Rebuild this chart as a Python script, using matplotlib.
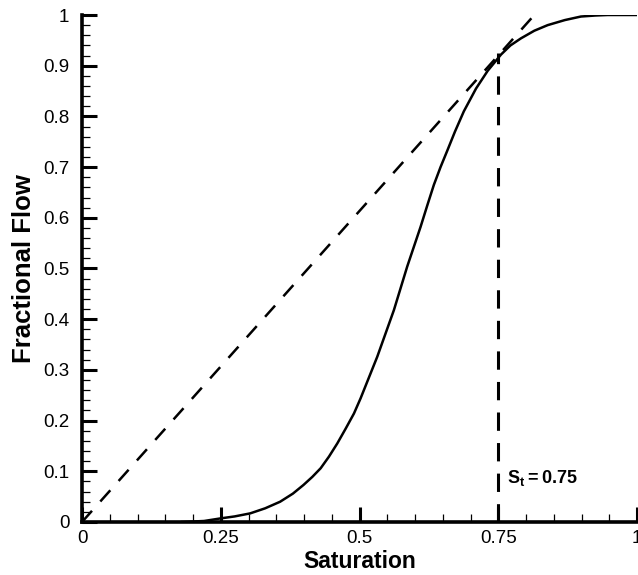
import numpy as np
import matplotlib
matplotlib.use("Agg")
import matplotlib.pyplot as plt
from matplotlib.ticker import MultipleLocator, FuncFormatter

plt.rcParams['font.family'] = ['Liberation Sans', 'DejaVu Sans']
plt.rcParams['mathtext.fontset'] = 'custom'
plt.rcParams['mathtext.rm'] = 'Liberation Sans:bold'
plt.rcParams['mathtext.bf'] = 'Liberation Sans:bold'

# fractional flow curve
sat = [0.18, 0.22, 0.249, 0.275, 0.303, 0.33, 0.357, 0.38, 0.399, 0.415,
       0.430, 0.445, 0.460, 0.475, 0.490, 0.502, 0.517, 0.532, 0.547, 0.562,
       0.574, 0.586, 0.598, 0.610, 0.622, 0.634, 0.646, 0.658, 0.672, 0.688,
       0.71, 0.731, 0.755, 0.772, 0.791, 0.815, 0.839, 0.87, 0.899, 0.925,
       0.947, 1.0]
frac = [0.0, 0.002, 0.007, 0.011, 0.017, 0.027, 0.040, 0.056, 0.073, 0.089,
        0.106, 0.129, 0.155, 0.184, 0.214, 0.244, 0.285, 0.326, 0.372, 0.418,
        0.461, 0.504, 0.543, 0.582, 0.624, 0.665, 0.700, 0.732, 0.770, 0.810,
        0.855, 0.890, 0.922, 0.940, 0.954, 0.969, 0.980, 0.990, 0.997, 0.999,
        1.0, 1.0]

# tangent from origin and the front saturation
tangent_s = [0.0, 0.815]
tangent_f = [0.0, 1.0]
front_s = 0.75
front_f = 0.925

fig = plt.figure(figsize=(6.38, 5.75), dpi=100)
ax = fig.add_axes([82 / 638, 53 / 575, 555 / 638, 507 / 575])

ax.plot(sat, frac, color='black', lw=1.8, solid_joinstyle='round')
ax.plot(tangent_s, tangent_f, color='black', lw=1.8, dashes=(6, 5))
ax.plot([front_s, front_s], [0, front_f], color='black', lw=2.2, dashes=(6, 4))
ax.text(0.765, 0.087, r'$\mathbf{S_t=0.75}$', fontsize=13, va='center', ha='left')

ax.set_xlim(0, 1)
ax.set_ylim(0, 1)
ax.xaxis.set_major_locator(MultipleLocator(0.25))
ax.xaxis.set_minor_locator(MultipleLocator(0.05))
ax.yaxis.set_major_locator(MultipleLocator(0.1))
ax.yaxis.set_minor_locator(MultipleLocator(0.02))

fmt = FuncFormatter(lambda v, p: ('%g' % round(v, 2)))
ax.xaxis.set_major_formatter(fmt)
ax.yaxis.set_major_formatter(fmt)

for s in ['top', 'right']:
    ax.spines[s].set_visible(False)
for s in ['left', 'bottom']:
    ax.spines[s].set_linewidth(2.6)

ax.tick_params(which='major', direction='in', length=11, width=2.2, labelsize=13.5)
ax.tick_params(which='minor', direction='in', length=5.5, width=0.9)
ax.tick_params(axis='y', which='major', pad=9)
ax.tick_params(axis='x', which='major', pad=6)

ax.set_xlabel('Saturation', fontsize=16.5, fontweight='bold', labelpad=2)
ax.set_ylabel('Fractional Flow', fontsize=18.5, fontweight='bold', labelpad=5)

fig.savefig('out.png', dpi=100)
